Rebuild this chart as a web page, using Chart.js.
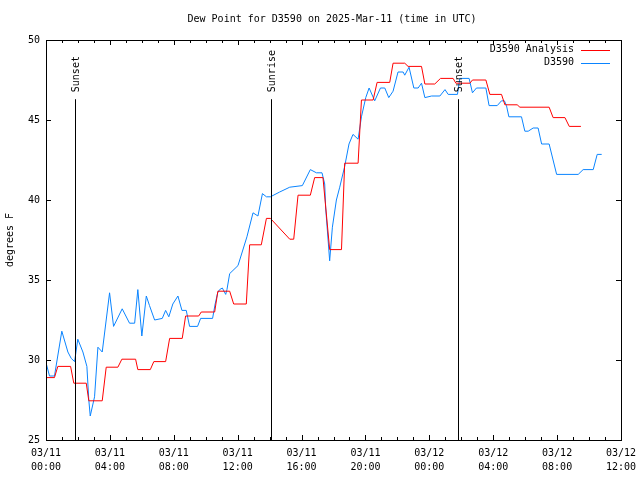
<!DOCTYPE html>
<html>
<head>
<meta charset="utf-8">
<script src="https://cdn.jsdelivr.net/npm/chart.js@4"></script>
<style>
  body { margin: 0; background: #fff; }
  #wrap { width: 640px; height: 480px; }
</style>
</head>
<body>
<div id="wrap"><canvas id="canvas" width="640" height="480"></canvas></div>
<script>
var chartTitle = 'Dew Point for D3590 on 2025-Mar-11 (time in UTC)';

// hours since 03/11 00:00 UTC
var stationHours = [0.01, 0.22, 0.53, 0.99, 1.37, 1.58, 1.79, 1.99, 2.31, 2.56, 2.68, 2.77, 3.04, 3.25, 3.52,
  3.98, 4.23, 4.77, 5.23, 5.55, 5.75, 6.00, 6.28, 6.48, 6.80, 7.28, 7.49, 7.69, 7.94, 8.26, 8.51, 8.78,
  8.99, 9.49, 9.68, 10.43, 10.59, 10.75, 10.87, 11.04, 11.25, 11.33, 11.50, 12.02, 12.58, 12.96, 13.27,
  13.55, 13.80, 14.05, 14.63, 15.26, 16.05, 16.55, 16.93, 17.28, 17.45, 17.51, 17.76, 17.93, 18.18, 18.39,
  18.70, 18.97, 19.22, 19.54, 19.75, 20.02, 20.23, 20.58, 20.94, 21.21, 21.46, 21.73, 22.04, 22.36, 22.46,
  22.73, 23.03, 23.30, 23.51, 23.72, 24.14, 24.66, 24.98, 25.18, 25.76, 25.91, 26.49, 26.70, 26.95, 27.54,
  27.74, 28.25, 28.52, 28.70, 28.83, 28.98, 29.77, 29.98, 30.19, 30.50, 30.81, 31.03, 31.50, 31.97, 33.32,
  33.63, 34.26, 34.51, 34.79];
var stationDew = [29.8, 29.0, 29.0, 31.8, 30.5, 30.1, 29.9, 31.3, 30.5, 29.6, 27.5, 26.5, 27.7, 30.8, 30.5,
  34.2, 32.1, 33.2, 32.3, 32.3, 34.4, 31.5, 34.0, 33.4, 32.5, 32.6, 33.1, 32.7, 33.5, 34.0, 33.1, 33.1,
  32.1, 32.1, 32.6, 32.6, 33.5, 34.2, 34.4, 34.5, 34.1, 34.4, 35.4, 35.9, 37.7, 39.2, 39.0,
  40.4, 40.2, 40.2, 40.5, 40.8, 40.9, 41.9, 41.7, 41.7, 41.0, 39.5, 36.2, 38.3, 40.0, 40.8,
  42.1, 43.5, 44.1, 43.8, 45.2, 46.4, 47.0, 46.2, 47.0, 47.0, 46.4, 46.8, 48.0, 48.0, 47.8,
  48.3, 47.0, 47.0, 47.3, 46.4, 46.5, 46.5, 46.9, 46.6, 46.6, 47.6, 47.6, 46.7, 47.0, 47.0,
  45.9, 45.9, 46.2, 46.2, 45.9, 45.2, 45.2, 44.3, 44.3, 44.5, 44.5, 43.5, 43.5, 41.6, 41.6,
  41.9, 41.9, 42.85, 42.85];

var analysisHours = [0, 0.53, 0.74, 1.54, 1.74, 2.52, 2.68, 3.52, 3.77, 4.50, 4.75, 5.61, 5.75, 6.53, 6.75,
  7.49, 7.74, 8.53, 8.74, 9.56, 9.72, 10.56, 10.76, 11.50, 11.75, 12.54, 12.75, 13.48, 13.80, 14.05, 15.26,
  15.51, 15.78, 16.55, 16.82, 17.34, 17.76, 18.50, 18.70, 19.54, 19.75, 20.48, 20.73, 21.52, 21.73, 22.46,
  22.67, 23.51, 23.72, 24.34, 24.70, 25.49, 25.66, 26.54, 26.70, 27.54, 27.79, 28.52, 28.73, 29.50, 29.67,
  31.50, 31.75, 32.49, 32.76, 33.49];
var analysisDew = [28.9, 28.9, 29.6, 29.6, 28.55, 28.55, 27.45, 27.45, 29.55, 29.55, 30.05, 30.05, 29.4, 29.4, 29.9,
  29.9, 31.35, 31.35, 32.75, 32.75, 33.0, 33.0, 34.3, 34.3, 33.5, 33.5, 37.2, 37.2, 38.85, 38.85, 37.55,
  37.55, 40.3, 40.3, 41.4, 41.4, 36.9, 36.9, 42.3, 42.3, 46.25, 46.25, 47.35, 47.35, 48.55, 48.55,
  48.35, 48.35, 47.25, 47.25, 47.6, 47.6, 47.3, 47.3, 47.5, 47.5, 46.6, 46.6, 45.95, 45.95, 45.8,
  45.8, 45.15, 45.15, 44.6, 44.6];

var xTickDates = ['03/11', '03/11', '03/11', '03/11', '03/11', '03/11', '03/12', '03/12', '03/12', '03/12'];
var xTickTimes = ['00:00', '04:00', '08:00', '12:00', '16:00', '20:00', '00:00', '04:00', '08:00', '12:00'];
var yTickValues = [25, 30, 35, 40, 45, 50];

var sunHours = [1.80, 14.09, 25.80];
var sunLabels = ['Sunset', 'Sunrise', 'Sunset'];
var sunLineTop = 46.3;

var FONT = '10px "DejaVu Sans Mono"';

function toPoints(xs, ys) {
  return xs.map(function(h, i) { return { x: h, y: ys[i] }; });
}

var frame = {
  id: 'frame',
  afterDraw: function(chart) {
    var ctx = chart.ctx, a = chart.chartArea;
    var xs = chart.scales.x, ys = chart.scales.y;
    ctx.save();
    ctx.strokeStyle = '#000';
    ctx.lineWidth = 1;
    ctx.strokeRect(a.left + 0.5, a.top + 0.5, a.right - a.left, a.bottom - a.top);

    ctx.beginPath();
    for (var h = 0; h <= 36; h++) {
      var px = Math.round(xs.getPixelForValue(h)) + 0.5;
      var len = h % 4 === 0 ? 5 : 3;
      ctx.moveTo(px, a.bottom); ctx.lineTo(px, a.bottom - len);
      ctx.moveTo(px, a.top); ctx.lineTo(px, a.top + len);
    }
    yTickValues.forEach(function(v) {
      var py = Math.round(ys.getPixelForValue(v)) + 0.5;
      ctx.moveTo(a.left, py); ctx.lineTo(a.left + 5, py);
      ctx.moveTo(a.right, py); ctx.lineTo(a.right - 5, py);
    });
    ctx.stroke();

    // sunrise / sunset markers
    ctx.font = FONT;
    ctx.fillStyle = '#000';
    sunHours.forEach(function(h, i) {
      var px = Math.round(xs.getPixelForValue(h)) + 0.5;
      var top = ys.getPixelForValue(sunLineTop);
      ctx.beginPath();
      ctx.moveTo(px, a.bottom); ctx.lineTo(px, top);
      ctx.stroke();
      ctx.save();
      ctx.translate(px + 1, top - 7);
      ctx.rotate(-Math.PI / 2);
      ctx.textAlign = 'left';
      ctx.textBaseline = 'middle';
      ctx.fillText(sunLabels[i], 0, 0);
      ctx.restore();
    });

    // title
    ctx.textAlign = 'center';
    ctx.textBaseline = 'middle';
    ctx.fillText(chartTitle, 332, 19);

    // legend, gnuplot style (text then sample)
    chart.data.datasets.forEach(function(ds, i) {
      var y = 49.5 + i * 13;
      ctx.textAlign = 'right';
      ctx.fillStyle = '#000';
      ctx.fillText(ds.label, 574, y);
      ctx.strokeStyle = ds.borderColor;
      ctx.beginPath();
      ctx.moveTo(581, Math.round(y) + 0.5); ctx.lineTo(610, Math.round(y) + 0.5);
      ctx.stroke();
    });
    ctx.restore();
  }
};

var ctx = document.getElementById('canvas').getContext('2d');
var chart = new Chart(ctx, {
  type: 'line',
  data: {
    datasets: [
      { label: 'D3590 Analysis', data: toPoints(analysisHours, analysisDew),
        borderColor: '#ff0000', borderWidth: 1, pointRadius: 0, tension: 0, fill: false },
      { label: 'D3590', data: toPoints(stationHours, stationDew),
        borderColor: '#0a84ff', borderWidth: 1, pointRadius: 0, tension: 0, fill: false }
    ]
  },
  options: {
    responsive: false,
    animation: false,
    layout: { padding: { top: 40, right: 19, left: 0, bottom: 0 } },
    plugins: { legend: { display: false }, tooltip: { enabled: false } },
    scales: {
      x: {
        type: 'linear', min: 0, max: 36,
        grid: { display: false, drawTicks: false },
        border: { display: false },
        ticks: {
          stepSize: 4, padding: 7, maxRotation: 0, autoSkip: false,
          color: '#000', font: { family: 'DejaVu Sans Mono', size: 10, lineHeight: 1.35 },
          callback: function(v) { var i = Math.round(v / 4); return [xTickDates[i], xTickTimes[i]]; }
        },
        afterFit: function(s) { s.height = 40; s.paddingLeft = 0; s.paddingRight = 0; }
      },
      y: {
        min: 25, max: 50,
        grid: { display: false, drawTicks: false },
        border: { display: false },
        ticks: { stepSize: 5, padding: 6, color: '#000', font: { family: 'DejaVu Sans Mono', size: 10 } },
        title: { display: true, text: 'degrees F', color: '#000', padding: { top: 4, bottom: 0 },
          font: { family: 'DejaVu Sans Mono', size: 10 } },
        afterFit: function(s) { s.width = 46; s.paddingTop = 0; s.paddingBottom = 0; }
      }
    }
  },
  plugins: [frame]
});
</script>
</body>
</html>
